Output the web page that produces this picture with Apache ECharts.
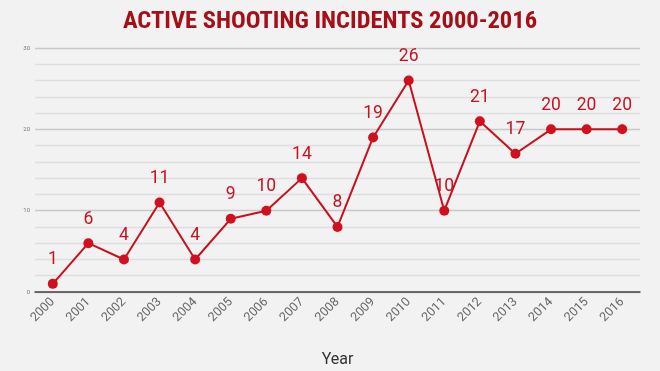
<!DOCTYPE html>
<html><head><meta charset="utf-8">
<script src="https://cdn.jsdelivr.net/npm/echarts@6/dist/echarts.min.js"></script>
<style>html,body{margin:0;padding:0;background:#f2f2f2}#c{width:660px;height:371px}</style>
</head><body><div id="c"></div>
<script>
const years = ['2000','2001','2002','2003','2004','2005','2006','2007','2008','2009','2010','2011','2012','2013','2014','2015','2016'];
const incidents = [1,6,4,11,4,9,10,14,8,19,26,10,21,17,20,20,20];
const yTicks = [0,10,20,30];

const chart = echarts.init(document.getElementById('c'));
chart.setOption({
  backgroundColor: '#f2f2f2',
  title: {
    text: 'ACTIVE SHOOTING INCIDENTS 2000-2016',
    left: 'center', top: 4,
    textStyle: {fontFamily: '"Roboto Condensed","Liberation Sans Narrow",Roboto', fontWeight: 'bold', fontSize: 24.5, color: '#a50f17'}
  },
  grid: {left: 35, right: 20, top: 48, bottom: 79, outerBoundsMode: 'none', containLabel: false},
  xAxis: {
    type: 'category', data: years, boundaryGap: true,
    name: 'Year', nameLocation: 'middle', nameGap: 60,
    nameTextStyle: {fontFamily: 'Roboto', fontSize: 16, color: '#333'},
    axisLine: {lineStyle: {color: '#444', width: 1.5}},
    axisTick: {show: false},
    axisLabel: {rotate: 45, fontFamily: 'Roboto', fontSize: 12.5, color: '#666', margin: 8}
  },
  yAxis: {
    type: 'value', min: 0, max: 30, interval: 2,
    axisLine: {show: false}, axisTick: {show: false},
    axisLabel: {fontFamily: 'Roboto', fontSize: 6, color: '#777', margin: 5,
      formatter: v => yTicks.includes(v) ? String(v) : ''},
    splitLine: {lineStyle: {color: ['#c8c8c8','#dedede','#dedede','#dedede','#dedede'], width: 1.3}}
  },
  series: [{
    type: 'line', data: incidents,
    symbol: 'circle', symbolSize: 10,
    lineStyle: {color: '#c8101e', width: 2},
    itemStyle: {color: '#d0101e'},
    label: {show: true, position: 'top', distance: 10, fontFamily: 'Roboto', fontSize: 17.5, color: '#c8121f'},
    labelLine: {show: true, lineStyle: {color: 'rgba(220,120,120,0.25)', width: 2}},
    animation: false
  }]
});
</script></body></html>
